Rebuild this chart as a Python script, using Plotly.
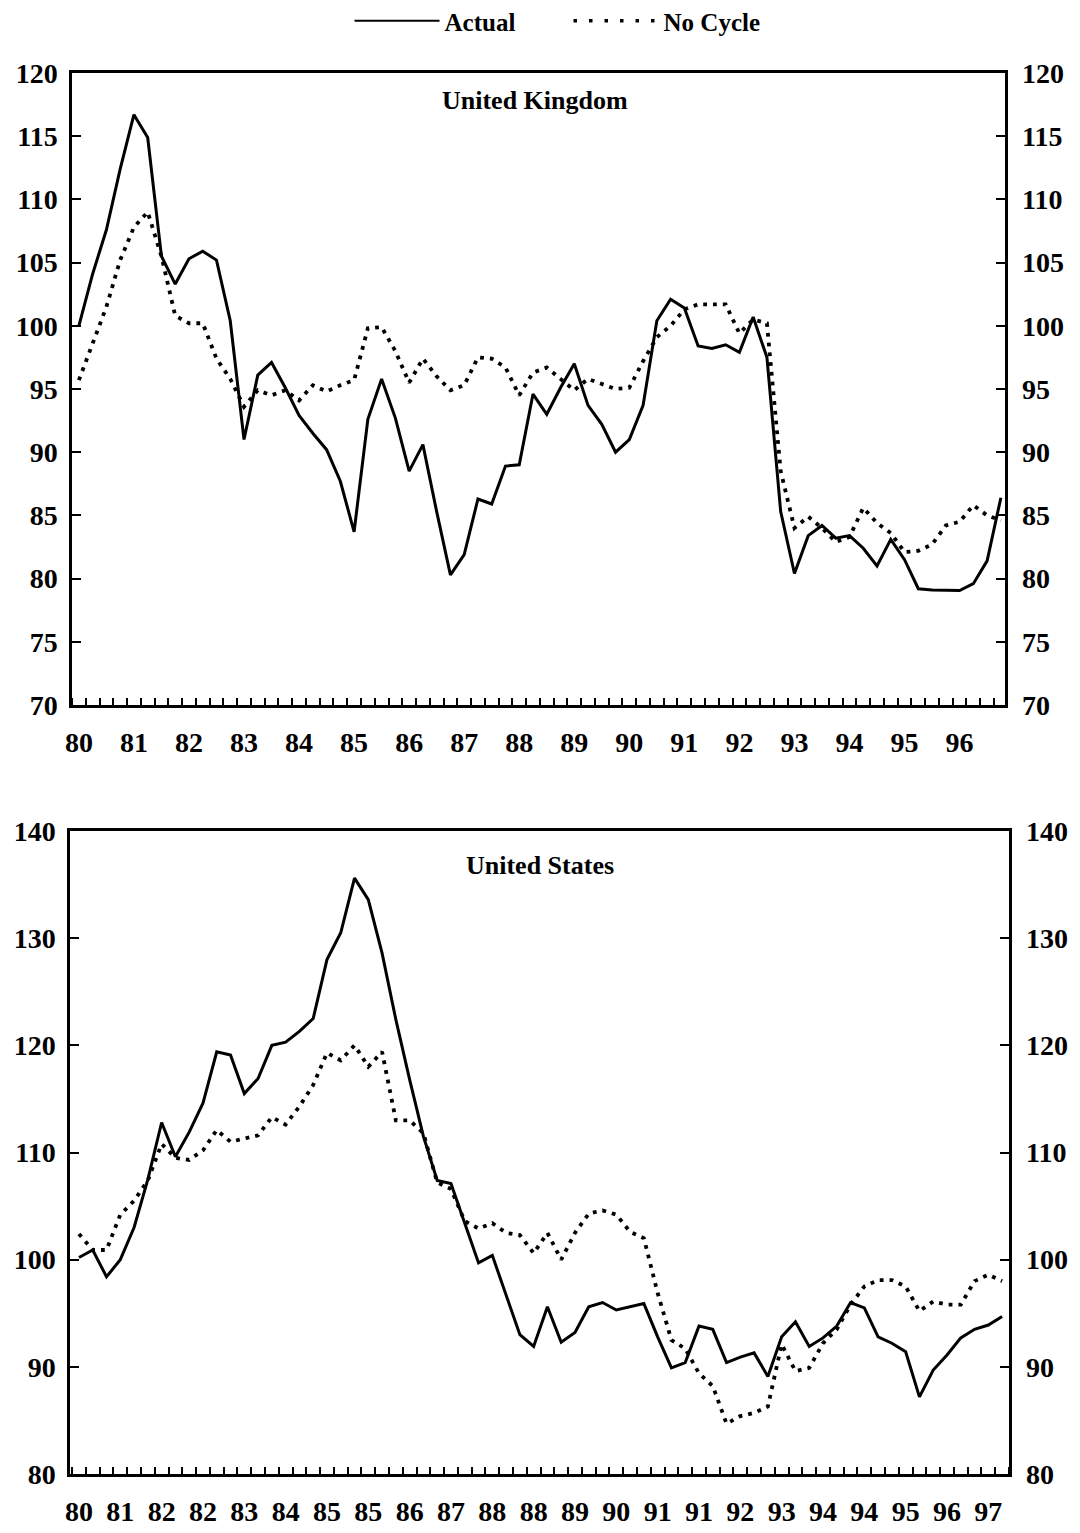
import plotly.graph_objects as go

# ---------------- data (quarterly, 1980Q1 - 1996Q4) ----------------
uk_actual = [100.0, 104.1, 107.6, 112.4, 116.7, 114.9, 105.5, 103.3, 105.3, 105.9,
             105.2, 100.4, 91.0, 96.1, 97.1, 95.1, 92.9, 91.5, 90.2, 87.7,
             83.7, 92.6, 95.8, 92.7, 88.5, 90.6, 85.3, 80.3, 81.9, 86.3,
             85.9, 88.9, 89.0, 94.6, 93.0, 95.1, 97.0, 93.7, 92.2, 90.0,
             91.0, 93.7, 100.4, 102.1, 101.4, 98.4, 98.2, 98.5, 97.9, 100.7,
             97.5, 85.3, 80.4, 83.4, 84.2, 83.2, 83.4, 82.4, 81.0, 83.1,
             81.5, 79.2, 79.1, 79.05, 79.05, 79.6, 81.4, 86.4]
uk_nocycle = [95.7, 98.6, 101.5, 105.2, 107.8, 109.0, 105.5, 100.8, 100.2, 100.2,
              97.4, 95.8, 93.6, 94.9, 94.5, 94.9, 94.1, 95.3, 94.8, 95.3,
              95.7, 99.8, 99.9, 98.0, 95.5, 97.4, 96.0, 94.9, 95.3, 97.5,
              97.4, 96.7, 94.5, 96.3, 96.7, 95.8, 94.9, 95.8, 95.4, 95.0,
              95.1, 97.2, 99.1, 100.0, 101.3, 101.7, 101.7, 101.7, 99.4, 100.5,
              100.2, 88.5, 84.0, 84.9, 84.0, 82.9, 83.3, 85.6, 84.4, 83.6,
              82.1, 82.2, 82.7, 84.2, 84.5, 85.8, 85.0, 84.6]

us_actual = [100.2, 100.9, 98.4, 100.0, 103.0, 107.5, 112.8, 109.6, 111.9, 114.6,
             119.4, 119.1, 115.5, 116.9, 120.0, 120.3, 121.3, 122.5, 128.0, 130.5,
             135.6, 133.6, 128.6, 122.4, 116.8, 111.5, 107.4, 107.1, 103.4, 99.7,
             100.4, 96.6, 93.0, 91.9, 95.6, 92.3, 93.2, 95.6, 96.0, 95.3,
             95.6, 95.9, 92.8, 89.9, 90.4, 93.8, 93.5, 90.4, 90.9, 91.3,
             89.1, 92.8, 94.2, 91.9, 92.7, 93.8, 96.0, 95.5, 92.8, 92.2,
             91.4, 87.2, 89.7, 91.1, 92.7, 93.5, 93.9, 94.7]
us_nocycle = [102.4, 100.9, 100.9, 104.2, 105.5, 107.4, 110.8, 109.5, 109.3, 110.2,
              112.1, 111.0, 111.3, 111.6, 113.3, 112.6, 114.3, 116.3, 119.3, 118.6,
              120.0, 118.0, 119.4, 113.0, 113.0, 111.8, 107.2, 106.6, 103.6, 102.9,
              103.4, 102.5, 102.3, 100.6, 102.5, 100.0, 102.5, 104.3, 104.6, 104.2,
              102.6, 102.0, 96.9, 92.5, 91.7, 89.4, 88.2, 84.7, 85.4, 85.7,
              86.3, 92.1, 89.6, 89.9, 92.2, 93.5, 95.8, 97.5, 98.1, 98.1,
              97.5, 95.2, 96.1, 95.8, 95.8, 98.0, 98.6, 98.0]

uk_ticktext = ["80", "81", "82", "83", "84", "85", "86", "87", "88",
               "89", "90", "91", "92", "93", "94", "95", "96"]
us_ticktext = ["80", "81", "82", "82", "83", "84", "85", "85", "86", "87", "88", "88",
               "89", "90", "91", "91", "92", "93", "94", "94", "95", "96", "97"]

uk_yticks = [70, 75, 80, 85, 90, 95, 100, 105, 110, 115, 120]
us_yticks = [80, 90, 100, 110, 120, 130, 140]

series_names = ["Actual", "No Cycle"]

# ---------------- figure ----------------
W, H = 1080, 1533
OFF = 8  # page body margin that shifts the figure inside the browser window
FONT = "Liberation Serif"
q_uk = list(range(len(uk_actual)))
q_us = list(range(len(us_actual)))

solid = dict(color="black", width=3)
dotted = dict(color="black", width=3.8, dash="3.8px,6px")

fig = go.Figure()
fig.add_trace(go.Scatter(x=q_uk, y=uk_actual, mode="lines", name=series_names[0],
                         line=solid, xaxis="x", yaxis="y", legendgroup="a", showlegend=False))
fig.add_trace(go.Scatter(x=q_uk, y=uk_nocycle, mode="lines", name=series_names[1],
                         line=dotted, xaxis="x", yaxis="y", legendgroup="b", showlegend=False))
fig.add_trace(go.Scatter(x=q_us, y=us_actual, mode="lines", name=series_names[0],
                         line=solid, xaxis="x2", yaxis="y2", legendgroup="a", showlegend=False))
fig.add_trace(go.Scatter(x=q_us, y=us_nocycle, mode="lines", name=series_names[1],
                         line=dotted, xaxis="x2", yaxis="y2", legendgroup="b", showlegend=False))
# legend keys (no data of their own)
fig.add_trace(go.Scatter(x=[None], y=[None], mode="lines", name=series_names[0],
                         line=dict(color="black", width=2), legendgroup="a",
                         xaxis="x", yaxis="y"))
fig.add_trace(go.Scatter(x=[None], y=[None], mode="lines", name=series_names[1],
                         line=dict(color="black", width=3.5, dash="3.5px,12px"), legendgroup="b",
                         xaxis="x", yaxis="y"))
# invisible copies so the right-hand (mirror) value axes are drawn
fig.add_trace(go.Scatter(x=q_uk, y=uk_actual, mode="lines", line=dict(width=0), opacity=0,
                         xaxis="x", yaxis="y3", showlegend=False, hoverinfo="skip"))
fig.add_trace(go.Scatter(x=q_us, y=us_actual, mode="lines", line=dict(width=0), opacity=0,
                         xaxis="x2", yaxis="y4", showlegend=False, hoverinfo="skip"))

tickfont = dict(family=FONT, size=28, color="black", weight="bold")

def px_x(a, b):
    return [(a - OFF) / W, (b - OFF) / W]

def px_y(top, bottom):
    return [1 - (bottom - OFF) / H, 1 - (top - OFF) / H]

xcommon = dict(showline=True, linecolor="black", linewidth=2.5, mirror=True,
               showgrid=False, zeroline=False, tickmode="array", ticks="",
               tickfont=tickfont, ticklabelstandoff=11,
               minor=dict(tickmode="linear", tick0=0.5, dtick=1, ticks="inside",
                          ticklen=7, tickwidth=2, tickcolor="black", showgrid=False))
ycommon = dict(showline=True, linecolor="black", linewidth=2.5, mirror=True,
               showgrid=False, zeroline=False, tickmode="array", ticks="inside",
               ticklen=9, tickwidth=2, tickcolor="black", tickfont=tickfont)
yright = dict(side="right", ticks="inside", ticklen=9, tickwidth=2, tickcolor="black",
              showline=False, showgrid=False, zeroline=False, tickfont=tickfont,
              tickmode="array", ticklabelstandoff=16)

uk_xrange = [-0.5, 67.3]
us_xrange = [-0.65, 67.5]
uk_yrange = [70, 120]
us_yrange = [80, 140]

fig.update_layout(
    width=W, height=H, paper_bgcolor="white", plot_bgcolor="white",
    margin=dict(l=0, r=0, t=0, b=0, autoexpand=False),
    font=dict(family=FONT, color="black"),
    xaxis=dict(domain=px_x(72, 1005), range=uk_xrange, anchor="y",
               tickvals=[4 * i for i in range(len(uk_ticktext))], ticktext=uk_ticktext, **xcommon),
    yaxis=dict(domain=px_y(73, 705), range=uk_yrange, anchor="x",
               tickvals=uk_yticks, ticklabelstandoff=6, **ycommon),
    yaxis3=dict(overlaying="y", range=uk_yrange, anchor="x", tickvals=uk_yticks, **yright),
    xaxis2=dict(domain=px_x(70, 1009), range=us_xrange, anchor="y2",
                tickvals=[3 * i for i in range(len(us_ticktext))], ticktext=us_ticktext, **xcommon),
    yaxis2=dict(domain=px_y(831, 1474), range=us_yrange, anchor="x2",
                tickvals=us_yticks, ticklabelstandoff=6, **ycommon),
    yaxis4=dict(overlaying="y2", range=us_yrange, anchor="x2", tickvals=us_yticks, **yright),
    legend=dict(orientation="h", x=0.519, xanchor="center", y=1.0065, yanchor="top",
                font=dict(family=FONT, size=25, color="black", weight="bold"),
                itemwidth=85, bgcolor="rgba(0,0,0,0)", traceorder="normal",
                entrywidth=119),
    showlegend=True,
)

fig.add_annotation(text="United Kingdom", xref="paper", yref="paper",
                   x=(535 - OFF) / W, y=1 - (100 - OFF) / H, xanchor="center", yanchor="middle",
                   showarrow=False,
                   font=dict(family=FONT, size=26, color="black", weight="bold"))
fig.add_annotation(text="United States", xref="paper", yref="paper",
                   x=(540 - OFF) / W, y=1 - (865 - OFF) / H, xanchor="center", yanchor="middle",
                   showarrow=False,
                   font=dict(family=FONT, size=26, color="black", weight="bold"))

fig.write_html("out.html")
